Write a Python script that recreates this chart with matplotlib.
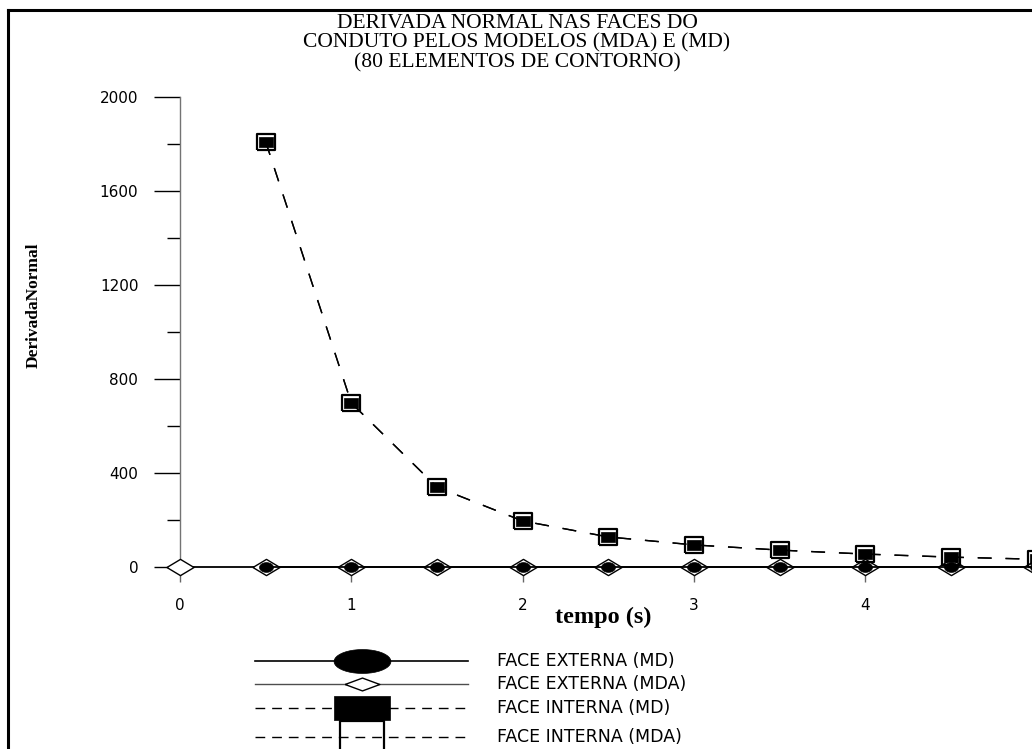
import numpy as np
import matplotlib.pyplot as plt
from matplotlib.ticker import MultipleLocator

# tempo (s)
t_ext_md = [0.5, 1.0, 1.5, 2.0, 2.5, 3.0, 3.5, 4.0, 4.5, 5.0]
t_ext_mda = [0.0, 0.5, 1.0, 1.5, 2.0, 2.5, 3.0, 3.5, 4.0, 4.5, 5.0]
t_int = [0.5, 1.0, 1.5, 2.0, 2.5, 3.0, 3.5, 4.0, 4.5, 5.0]

# derivada normal
ext_md = [0, 0, 0, 0, 0, 0, 0, 0, 0, 0]
ext_mda = [0, 0, 0, 0, 0, 0, 0, 0, 0, 0, 0]
int_md = [1810, 698, 340, 196, 128, 94, 72, 55, 42, 33]
int_mda = [1810, 698, 340, 196, 128, 94, 72, 55, 42, 33]

title_lines = ["DERIVADA NORMAL NAS FACES DO",
               "CONDUTO PELOS MODELOS (MDA) E (MD)",
               "(80 ELEMENTOS DE CONTORNO)"]
legend_labels = ["FACE EXTERNA (MD)", "FACE EXTERNA (MDA)",
                 "FACE INTERNA (MD)", "FACE INTERNA (MDA)"]


def ellipse(aspect):
    a = np.linspace(0, 2 * np.pi, 41)
    return list(zip(np.cos(a), aspect * np.sin(a)))


def rect(aspect):
    return [(-1, -aspect), (1, -aspect), (1, aspect), (-1, aspect), (-1, -aspect)]


def diamond(aspect):
    return [(-1, 0), (0, aspect), (1, 0), (0, -aspect), (-1, 0)]


W, H = 1032, 749
fig = plt.figure(figsize=(W / 100, H / 100), dpi=100)
ax = fig.add_axes([180 / W, 1 - 567 / H, 856.5 / W, 470 / H])

dash = (0, (10, 10))
ax.plot(t_ext_mda, ext_mda, color="black", lw=1.3, marker=diamond(0.6),
        ms=19.5, mfc="white", mec="black", mew=1.0, clip_on=False, zorder=3)
ax.plot(t_ext_md, ext_md, color="black", lw=1.3, marker=ellipse(0.7),
        ms=10, mfc="black", mec="black", mew=0.5, clip_on=False, zorder=4)
ax.plot(t_int, int_mda, color="black", lw=1.0, ls=dash, marker=rect(0.84),
        ms=13.4, mfc="none", mec="black", mew=1.6, clip_on=False, zorder=3)
ax.plot(t_int, int_md, color="black", lw=1.0, ls=dash, marker=rect(0.77),
        ms=9.6, mfc="black", mec="black", mew=0.5, clip_on=False, zorder=4)

ax.set_xlim(0, 5)
ax.set_ylim(0, 2000)
ax.xaxis.set_major_locator(MultipleLocator(1))
ax.yaxis.set_major_locator(MultipleLocator(400))
ax.yaxis.set_minor_locator(MultipleLocator(200))

for s in ("top", "right", "bottom"):
    ax.spines[s].set_visible(False)
ax.spines["left"].set_color("0.45")
ax.spines["left"].set_linewidth(1.0)

ax.tick_params(axis="y", which="major", direction="out", length=19,
               width=1.0, color="black", pad=11)
ax.tick_params(axis="y", which="minor", direction="out", length=9.5,
               width=1.0, color="black")
ax.tick_params(axis="x", which="major", direction="out", length=11,
               width=1.0, color="0.4", pad=11)
for lab in ax.get_xticklabels() + ax.get_yticklabels():
    lab.set_fontfamily("DejaVu Sans")
    lab.set_fontsize(11)

ax.set_xlabel("tempo (s)", fontfamily="Liberation Serif", fontweight="bold",
              fontsize=17.5)
ax.xaxis.set_label_coords((603 - 180) / 856.5, (567 - 617) / 470)
ax.xaxis.label.set_va("center")
ax.set_ylabel("DerivadaNormal", fontfamily="Liberation Serif",
              fontweight="bold", fontsize=12.5)
ax.yaxis.set_label_coords((34 - 180) / 856.5, (567 - 305) / 470)
ax.yaxis.label.set_va("center")

# overlay in pixel units for the title, legend and frame
ov = fig.add_axes([0, 0, 1, 1], facecolor="none")
ov.set_xlim(0, W)
ov.set_ylim(H, 0)
ov.axis("off")

for y, line in zip([23, 43, 63], title_lines):
    ov.text(517, y, line, ha="center", va="center",
            fontfamily="Liberation Serif", fontsize=15.5)

ov.plot([8, 8], [H + 5, 10], color="black", lw=2.2, clip_on=False)
ov.plot([8, W + 5], [10, 10], color="black", lw=2.2, clip_on=False)

rows = [661, 684, 708, 737]
styles = [
    dict(ls="-", lw=1.2, marker=ellipse(0.42), ms=41, mfc="black", mec="black"),
    dict(ls="-", lw=1.0, color="0.3", marker=diamond(0.37), ms=25,
         mfc="white", mec="black", mew=1.0),
    dict(ls=(0, (7, 5)), lw=1.0, marker=rect(0.43), ms=40, mfc="black",
         mec="black"),
    dict(ls=(0, (7, 5)), lw=1.0, marker=rect(0.73), ms=31.7, mfc="none",
         mec="black", mew=1.6),
]
for y, label, st in zip(rows, legend_labels, styles):
    st = dict(st)
    color = st.pop("color", "black")
    marker = st.pop("marker")
    ms, mfc, mec = st.pop("ms"), st.pop("mfc"), st.pop("mec")
    mew = st.pop("mew", 0.5)
    ov.plot([255, 468], [y, y], color=color, **st)
    ov.plot([362], [y], ls="none", marker=marker, ms=ms, mfc=mfc, mec=mec,
            mew=mew, clip_on=False)
    ov.text(497, y, label, va="center", fontfamily="DejaVu Sans", fontsize=12.5)

fig.savefig("out.png", dpi=100)
